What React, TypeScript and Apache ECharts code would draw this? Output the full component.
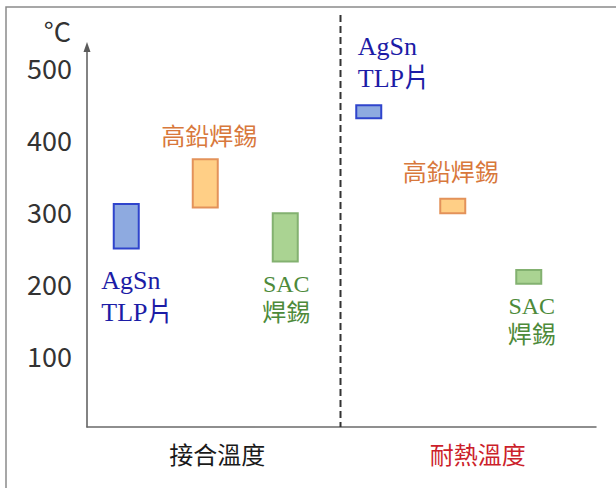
import React, { useEffect, useRef } from "react";
import * as echarts from "echarts";

// ---- data ----
const groups = ["接合溫度", "耐熱溫度"];
const materials = ["AgSn\nTLP片", "高鉛焊錫", "SAC\n焊錫"];
const joinLow = [248, 305, 230];
const joinHigh = [310, 372, 297];
const heatLow = [429, 297, 199];
const heatHigh = [447, 317, 218];

// ---- styles / layout ----
const groupLabelStyle = ["g0", "g1"];
const barFill = ["#8eaae0", "#ffcf86", "#aad392"];
const barStroke = ["#2f44cc", "#e3925a", "#83b170"];
const textColor = ["#1c1ca6", "#d8783c", "#4d8a3a"];
const slotOffsets = [
  [-88, -9, 71],
  [-100, -16, 60],
];
const barWidth = 25;
type LL = { side: "above" | "below"; align: "left" | "center"; dx: number; gap: number };
const labelLayout: LL[][] = [
  [
    { side: "below", align: "left", dx: -25, gap: 16 },
    { side: "above", align: "center", dx: 4, gap: 11 },
    { side: "below", align: "center", dx: 1, gap: 8 },
  ],
  [
    { side: "above", align: "left", dx: -11, gap: 11 },
    { side: "above", align: "center", dx: -2, gap: 14 },
    { side: "below", align: "center", dx: 3, gap: 8 },
  ],
];
const labelFont = [
  { fontSize: 26, lineHeight: 32, fontFamily: '"Liberation Serif", "Noto Sans CJK TC", serif' },
  { fontSize: 24, lineHeight: 28, fontFamily: '"Noto Sans CJK TC", sans-serif' },
  { fontSize: 24, lineHeight: 29, fontFamily: '"Liberation Serif", "Noto Sans CJK TC", serif' },
];

const rangeData: number[][] = [];
groups.forEach((_, g) => {
  const lows = g === 0 ? joinLow : heatLow;
  const highs = g === 0 ? joinHigh : heatHigh;
  materials.forEach((__, m) => rangeData.push([g, lows[m], highs[m], m]));
});

export default function App() {
  const ref = useRef<HTMLDivElement>(null);
  useEffect(() => {
    if (!ref.current) return;
    const chart = echarts.init(ref.current, undefined, { renderer: "svg" });
    chart.setOption({
      animation: false,
      backgroundColor: "#ffffff",
      grid: { left: 87, right: 20, top: 47, bottom: 61 },
      graphic: [
        {
          type: "rect",
          shape: { x: 6, y: 7, width: 640, height: 520 },
          style: { fill: "none", stroke: "#8a8a8a", lineWidth: 1.5 },
          z: 0,
        },
      ],
      xAxis: {
        type: "category",
        data: groups,
        boundaryGap: true,
        axisLine: { lineStyle: { color: "#6a6a6a", width: 1.5 } },
        axisTick: { show: false },
        splitLine: { show: false },
        axisLabel: {
          margin: 14,
          fontSize: 24,
          fontFamily: '"Noto Sans CJK TC", sans-serif',
          formatter: (v: string, i: number) => `{${groupLabelStyle[i]}|${v}}`,
          rich: {
            g0: { color: "#1a1a1a", fontSize: 24, padding: [0, 0, 0, 6], fontFamily: '"Noto Sans CJK TC", sans-serif' },
            g1: { color: "#cc1f2b", fontSize: 24, padding: [0, 0, 0, 18], fontFamily: '"Noto Sans CJK TC", sans-serif' },
          },
        },
      },
      yAxis: {
        type: "value",
        min: 0,
        max: 528,
        interval: 100,
        name: "°C",
        nameLocation: "end",
        nameGap: 3,
        nameTextStyle: {
          fontSize: 27,
          color: "#333333",
          fontFamily: '"Noto Sans CJK JP", sans-serif',
          align: "right",
          padding: [0, 16, 0, 0],
        },
        axisLine: {
          show: true,
          symbol: ["none", "triangle"],
          symbolSize: [7, 10],
          lineStyle: { color: "#5a5a5a", width: 1.5 },
        },
        axisTick: { show: false },
        splitLine: { show: false },
        axisLabel: {
          showMinLabel: false,
          showMaxLabel: false,
          margin: 15,
          fontSize: 27,
          color: "#333333",
          fontFamily: '"Noto Sans CJK JP", sans-serif',
        },
      },
      series: [
        {
          type: "custom",
          data: [[0]],
          silent: true,
          renderItem: (_p: any, api: any) => {
            const a = api.coord([0, 0]);
            const b = api.coord([1, 0]);
            const x = (a[0] + b[0]) / 2 - 1;
            return {
              type: "line",
              shape: { x1: x, y1: 15, x2: x, y2: a[1] },
              style: { stroke: "#333333", lineWidth: 2, lineDash: [7, 4] },
            };
          },
        },
        {
          type: "custom",
          data: rangeData,
          silent: true,
          renderItem: (_p: any, api: any) => {
            const g = api.value(0);
            const lo = api.value(1);
            const hi = api.value(2);
            const m = api.value(3);
            const top = api.coord([g, hi]);
            const bot = api.coord([g, lo]);
            const cx = top[0] + slotOffsets[g][m];
            const ll = labelLayout[g][m];
            const lf = labelFont[m];
            const tx = cx + ll.dx;
            const ty = ll.side === "below" ? bot[1] + ll.gap : top[1] - ll.gap;
            return {
              type: "group",
              children: [
                {
                  type: "rect",
                  shape: { x: cx - barWidth / 2, y: top[1], width: barWidth, height: bot[1] - top[1] },
                  style: { fill: barFill[m], stroke: barStroke[m], lineWidth: 2 },
                },
                {
                  type: "text",
                  style: {
                    text: materials[m],
                    x: tx,
                    y: ty,
                    align: ll.align,
                    verticalAlign: ll.side === "below" ? "top" : "bottom",
                    fill: textColor[m],
                    fontSize: lf.fontSize,
                    lineHeight: lf.lineHeight,
                    fontFamily: lf.fontFamily,
                  },
                },
              ],
            };
          },
        },
      ],
    });
    return () => chart.dispose();
  }, []);
  return (
    <div
      ref={ref}
      style={{ position: "fixed", left: 0, top: 0, width: 616, height: 488 }}
    />
  );
}
